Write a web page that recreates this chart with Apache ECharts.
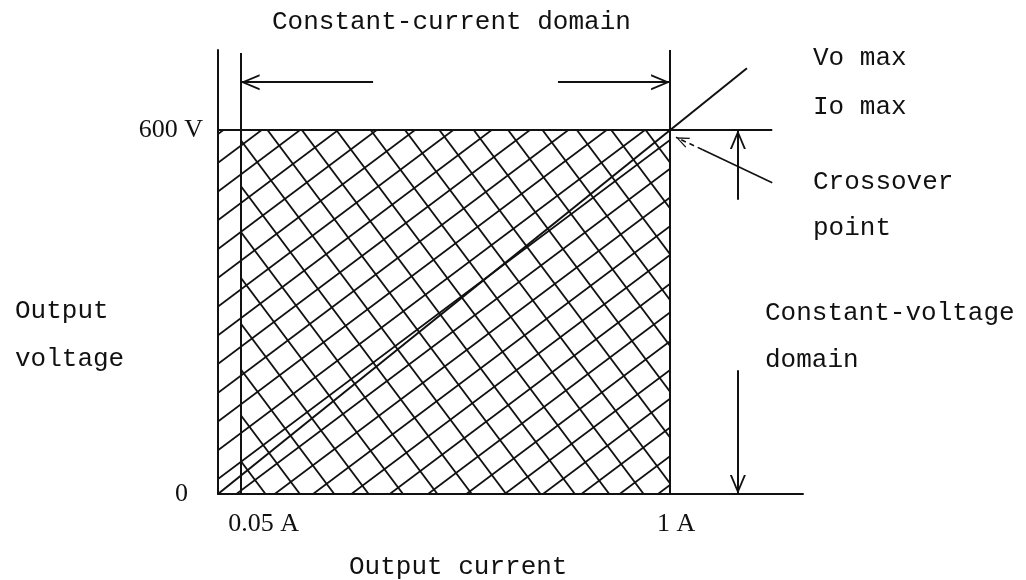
<!DOCTYPE html>
<html lang="en">
<head>
    <meta charset="utf-8"/>
    <title>Constant-voltage / constant-current domains</title>
    <style>
        html, body { margin: 0; padding: 0; background: #fff; }
        #chart { width: 1026px; height: 580px; }
    </style>
</head>
<body>
<div id="chart"></div>

<script src="https://cdn.jsdelivr.net/npm/echarts@6/dist/echarts.min.js"></script>
<script>
    // x = output current (A), y = output voltage (V)
    const currentTicks = [0.05, 1];
    const currentTickLabels = ['0.05 A', '1 A'];
    const voltageTicks = [0, 600];
    const voltageTickLabels = ['0', '600 V'];

    const ioMin = 0.05;   // lower edge of the cross-hatched domain
    const ioMax = 1;      // Io max
    const voMax = 600;    // Vo max

    const maxVoltageLine = [[0, 600], [1.226, 600]];
    const loadLine = [[0, 0], [1.17, 702]];
    const boundaryLines = [
        [[0.05, 0], [0.05, 727]],
        [[1, 0], [1, 732]]
    ];
    // arrows: [from, to]
    const ccArrows = [
        [[0.343, 679], [0.05, 679]],
        [[0.752, 679], [1, 679]]
    ];
    const cvArrows = [
        [[1.15, 485], [1.15, 600]],
        [[1.15, 204], [1.15, 0]]
    ];
    const leaderSolid = [[1.226, 513], [1.071, 568]];
    const leaderDash = [[1.071, 568], [1.013, 588]];

    const topNote = 'Constant-current domain';
    const cornerNote = ['Vo max', 'Io max'];
    const crossoverNote = ['Crossover', 'point'];
    const cvNote = ['Constant-voltage', 'domain'];
    const yName = ['Output', 'voltage'];
    const xName = 'Output current';

    // hatch fill drawn on a canvas the size of the chart
    function hatch(families) {
        const c = document.createElement('canvas');
        c.width = 1026;
        c.height = 580;
        const g = c.getContext('2d');
        g.strokeStyle = '#111';
        g.lineWidth = 1.8;
        families.forEach(function (f) {
            for (let k = -90; k <= 90; k++) {
                const d = f.phase + k * f.gap;
                const px = d * f.nx, py = d * f.ny;
                g.beginPath();
                g.moveTo(px + 2000 * f.ny, py - 2000 * f.nx);
                g.lineTo(px - 2000 * f.ny, py + 2000 * f.nx);
                g.stroke();
            }
        });
        return c;
    }
    const rising = {nx: 0.6, ny: 0.8, gap: 23, phase: 261};
    const falling = {nx: 0.8, ny: -0.6, gap: 27.5, phase: 136};

    const chevron = 'path://M0,0 L0.01,0 L0,0.01 Z M38,0 L37.99,0 L38,0.01 Z ' +
        'M19,19 L11,38 L13,38 L19,23.5 L25,38 L27,38 Z';

    function segs(list) {
        return list.map(function (p) { return {coords: p}; });
    }

    function tickFmt(ticks, labels) {
        return function (v) {
            const i = ticks.findIndex(function (t) { return Math.abs(t - v) < 1e-9; });
            return '{t' + i + '|' + labels[i] + '}';
        };
    }

    const textFont = {fontFamily: 'Liberation Mono', fontSize: 26, fill: '#111', verticalAlign: 'middle'};
    function note(text, x, y, align) {
        return {
            type: 'text', x: x, y: y, silent: true,
            style: Object.assign({text: text, align: align || 'left'}, textFont)
        };
    }

    const chart = echarts.init(document.getElementById('chart'));
    chart.setOption({
        animation: false,
        backgroundColor: '#fff',
        grid: {left: 218, right: 223, top: 50, bottom: 86, outerBoundsMode: 'none'},
        xAxis: {
            type: 'value', min: 0, max: 1.294,
            splitLine: {show: false},
            axisTick: {show: false},
            axisLine: {lineStyle: {color: '#111', width: 2}},
            axisLabel: {
                customValues: currentTicks,
                formatter: tickFmt(currentTicks, currentTickLabels),
                margin: 17,
                rich: {
                    t0: {fontFamily: 'Liberation Serif', fontSize: 26, color: '#111', padding: [0, 0, 0, 46]},
                    t1: {fontFamily: 'Liberation Serif', fontSize: 26, color: '#111', padding: [0, 0, 0, 12]}
                }
            }
        },
        yAxis: {
            type: 'value', min: 0, max: 732,
            splitLine: {show: false},
            axisTick: {show: false},
            axisLine: {lineStyle: {color: '#111', width: 2}},
            axisLabel: {
                customValues: voltageTicks,
                formatter: tickFmt(voltageTicks, voltageTickLabels),
                margin: 15,
                rich: {
                    t0: {fontFamily: 'Liberation Serif', fontSize: 26, color: '#111', padding: [0, 15, 0, 0]},
                    t1: {fontFamily: 'Liberation Serif', fontSize: 26, color: '#111'}
                }
            }
        },
        series: [
            {
                name: 'single hatch', type: 'line', silent: true, z: 1,
                data: [[0, voMax], [ioMax, voMax]],
                showSymbol: false,
                lineStyle: {width: 0},
                areaStyle: {origin: 'start', opacity: 1, color: {image: hatch([rising]), repeat: 'no-repeat'}}
            },
            {
                name: 'cross hatch', type: 'line', silent: true, z: 1,
                data: [[ioMin, voMax], [ioMax, voMax]],
                showSymbol: false,
                lineStyle: {width: 0},
                areaStyle: {origin: 'start', opacity: 1, color: {image: hatch([falling]), repeat: 'no-repeat'}}
            },
            {
                name: 'frame', type: 'lines', coordinateSystem: 'cartesian2d', silent: true, z: 3,
                symbol: 'none',
                lineStyle: {color: '#111', width: 2, opacity: 1},
                data: segs(boundaryLines.concat([maxVoltageLine, loadLine]))
            },
            {
                name: 'arrows', type: 'lines', coordinateSystem: 'cartesian2d', silent: true, z: 3,
                symbol: ['none', chevron], symbolSize: 38,
                lineStyle: {color: '#111', width: 2, opacity: 1},
                data: segs(ccArrows.concat(cvArrows))
            },
            {
                name: 'leader', type: 'lines', coordinateSystem: 'cartesian2d', silent: true, z: 3,
                symbol: 'none',
                lineStyle: {color: '#111', width: 1.6, opacity: 1},
                data: segs([leaderSolid])
            },
            {
                name: 'leader tip', type: 'lines', coordinateSystem: 'cartesian2d', silent: true, z: 3,
                symbol: ['none', chevron], symbolSize: 26,
                lineStyle: {color: '#111', width: 1.6, type: [5, 4], opacity: 1},
                data: segs([leaderDash])
            }
        ],
        graphic: [
            note(topNote, 272, 22),
            note(cornerNote[0], 813, 58),
            note(cornerNote[1], 813, 107),
            note(crossoverNote[0], 813, 182),
            note(crossoverNote[1], 813, 228),
            note(cvNote[0], 765, 313),
            note(cvNote[1], 765, 360),
            note(yName[0], 15, 311),
            note(yName[1], 15, 359),
            note(xName, 349, 567)
        ]
    });
</script>
</body>
</html>
